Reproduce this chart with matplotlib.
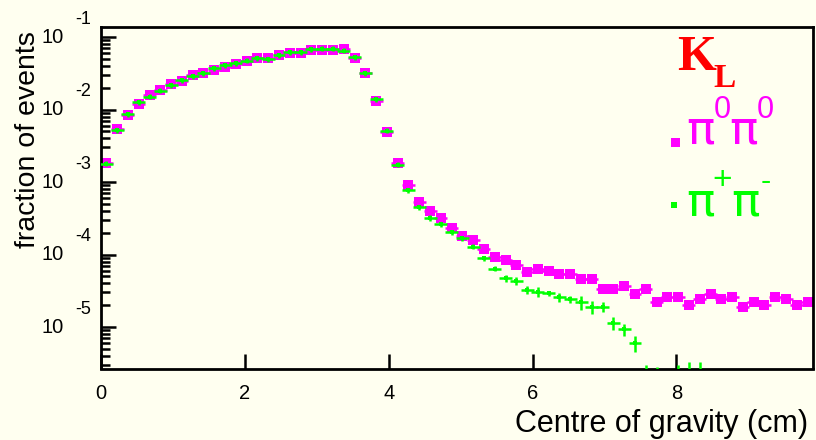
import numpy as np
import matplotlib
matplotlib.use("Agg")
import matplotlib.pyplot as plt
import matplotlib.transforms as mtransforms
from matplotlib.patches import Rectangle
from matplotlib.ticker import FixedLocator, LogLocator, NullFormatter, NullLocator

# ---- data: fraction of events per 0.15 cm bin of the centre of gravity ----
bin_start = 0.0
bin_width = 0.15

pi0pi0 = [
    1.81e-3, 5.33e-3, 8.32e-3, 1.19e-2, 1.57e-2, 1.86e-2, 2.22e-2, 2.45e-2,
    2.96e-2, 3.22e-2, 3.54e-2, 3.89e-2, 4.20e-2, 4.71e-2, 5.19e-2, 5.13e-2,
    5.58e-2, 6.08e-2, 6.11e-2, 6.62e-2, 6.62e-2, 6.62e-2, 6.73e-2, 5.08e-2,
    3.19e-2, 1.30e-2, 4.84e-3, 1.81e-3, 9.06e-4, 5.27e-4, 3.98e-4, 3.24e-4,
    2.32e-4, 1.78e-4, 1.60e-4, 1.21e-4, 9.33e-5, 8.39e-5, 7.08e-5, 5.75e-5,
    6.37e-5, 5.89e-5, 5.37e-5, 5.37e-5, 4.57e-5, 4.57e-5, 3.39e-5, 3.39e-5,
    3.72e-5, 2.88e-5, 3.39e-5, 2.21e-5, 2.63e-5, 2.63e-5, 2.00e-5, 2.40e-5,
    2.85e-5, 2.40e-5, 2.63e-5, 1.86e-5, 2.19e-5, 2.00e-5, 2.63e-5, 2.40e-5,
    2.00e-5, 2.21e-5,
]

pipm = [
    1.78e-3, 5.21e-3, 8.67e-3, 1.26e-2, 1.50e-2, 1.82e-2, 2.18e-2, 2.55e-2,
    2.90e-2, 3.16e-2, 3.70e-2, 4.11e-2, 4.34e-2, 4.71e-2, 5.08e-2, 4.92e-2,
    5.65e-2, 6.15e-2, 6.15e-2, 6.76e-2, 6.90e-2, 6.90e-2, 6.47e-2, 5.24e-2,
    3.16e-2, 1.38e-2, 5.13e-3, 1.74e-3, 7.76e-4, 4.52e-4, 3.20e-4, 2.62e-4,
    2.04e-4, 1.67e-4, 1.29e-4, 8.91e-5, 6.38e-5, 4.68e-5, 4.37e-5, 3.24e-5,
    3.09e-5, 2.91e-5, 2.57e-5, 2.40e-5, 2.19e-5, 1.91e-5, 1.91e-5, 1.15e-5,
    9.33e-6, 6.03e-6, 1.51e-6, 1.41e-6, np.nan, 1.51e-6, 1.66e-6, 1.66e-6,
]

# relative statistical error of the charged sample
pipm_relerr = [0.08] * 37 + [
    0.10, 0.13, 0.12, 0.16, 0.09, 0.13, 0.12, 0.21, 0.21, 0.15, 0.20, 0.19,
    0.26, 1.0, 1.0, 1.0, 1.0, 1.0, 1.0,
]

x_ticks = [0, 2, 4, 6, 8]
y_decades = [-1, -2, -3, -4, -5]

# ---- style ----
BG = "#fffff0"
MAGENTA = "#ff00ff"
GREEN = "#00ff00"
RED = "#ff0000"
SANS = "Liberation Sans"
SERIF = "Liberation Serif"
GREEK = "DejaVu Sans"

W, H = 816, 440
fig = plt.figure(figsize=(W / 100, H / 100), dpi=100, facecolor=BG)
ax = fig.add_axes([101 / W, 1 - 368.5 / H, (813 - 101) / W, (368.5 - 26.5) / H])
ax.set_facecolor(BG)

centres_all = bin_start + bin_width * (np.arange(len(pi0pi0)) + 0.5)
v0 = np.array(pi0pi0)
vc = np.array(pipm, dtype=float)
rel = np.array(pipm_relerr)
xc = centres_all[: len(vc)]
ok = ~np.isnan(vc)

ax.set_yscale("log")
ax.set_xlim(0, 9.9)
ax.set_ylim(10 ** -5.572, 10 ** -0.855)

# neutral decays: filled squares with bin-width bars
ax.errorbar(centres_all, v0, xerr=0.09, fmt="s", ms=7.6, mfc=MAGENTA, mec=MAGENTA,
            mew=0, ecolor=MAGENTA, elinewidth=1.8, capsize=0, zorder=2)

# charged decays: crosses with small markers
lo = vc[ok] * np.minimum(rel[ok], 0.9)
hi = vc[ok] * rel[ok]
ax.errorbar(xc[ok], vc[ok], xerr=0.09, yerr=[lo, hi], fmt="s", ms=3.2,
            mfc=GREEN, mec=GREEN, mew=0, ecolor=GREEN, elinewidth=1.8,
            capsize=0, zorder=3)

# ---- frame and ticks ----
for side in ["left", "right", "top", "bottom"]:
    ax.spines[side].set_linewidth(2.0)
    ax.spines[side].set_color("black")

ax.xaxis.set_major_locator(FixedLocator(x_ticks))
ax.xaxis.set_minor_locator(NullLocator())
ax.yaxis.set_major_locator(LogLocator(base=10, numticks=20))
ax.yaxis.set_minor_locator(LogLocator(base=10, subs=np.arange(2, 10), numticks=20))
ax.yaxis.set_major_formatter(NullFormatter())
ax.yaxis.set_minor_formatter(NullFormatter())
ax.tick_params(which="major", direction="in", length=11, width=1.8,
               top=False, right=False, color="black")
ax.tick_params(which="minor", direction="in", length=6.5, width=1.8,
               top=False, right=False, color="black")
ax.set_xticklabels([str(t) for t in x_ticks], fontsize=14.5, family=SANS)
ax.tick_params(axis="x", pad=11)

# power-of-ten labels on the y axis
trans = mtransforms.blended_transform_factory(fig.transFigure, ax.transData)
trans_up = mtransforms.offset_copy(trans, fig=fig, x=0, y=18, units="dots")
for e in y_decades:
    ax.text(64 / W, 10.0 ** e, "10", transform=trans, ha="right", va="center",
            fontsize=14.5, family=SANS, clip_on=False)
    ax.text(75 / W, 10.0 ** e, str(e), transform=trans_up, ha="left", va="center",
            fontsize=13, family=SANS, clip_on=False)

# axis titles
fig.text(35.5 / W, 1 - 140 / H, "fraction of events", rotation=90,
         rotation_mode="anchor", ha="center", va="baseline", fontsize=20.5,
         family=SANS)
fig.text(808 / W, 1 - 432 / H, "Centre of gravity (cm)", ha="right",
         va="baseline", fontsize=22, family=SANS)

# ---- key ----
fig.text(677 / W, 1 - 70 / H, "K", color=RED, fontsize=36, family=SERIF,
         weight="bold", ha="left", va="baseline")
fig.text(713 / W, 1 - 87 / H, "L", color=RED, fontsize=24, family=SERIF,
         weight="bold", ha="left", va="baseline")

fig.add_artist(Rectangle((671 / W, 1 - 147 / H), 9 / W, 9 / H, transform=fig.transFigure,
                         facecolor=MAGENTA, edgecolor="none"))
for xp in (686, 729):
    fig.text(xp / W, 1 - 144 / H, "\u03c0", color=MAGENTA, fontsize=34,
             family=GREEK, ha="left", va="baseline")
for xp in (714, 757):
    fig.text(xp / W, 1 - 118 / H, "0", color=MAGENTA, fontsize=22,
             family=SANS, ha="left", va="baseline")

fig.add_artist(Rectangle((671 / W, 1 - 208 / H), 6 / W, 6 / H, transform=fig.transFigure,
                         facecolor=GREEN, edgecolor="none"))
for xp in (686, 731):
    fig.text(xp / W, 1 - 215 / H, "\u03c0", color=GREEN, fontsize=34,
             family=GREEK, ha="left", va="baseline")
fig.text(722.5 / W, 1 - 180.5 / H, "+", color=GREEN, fontsize=24,
         family=SANS, ha="center", va="center")
fig.text(766 / W, 1 - 182 / H, "-", color=GREEN, fontsize=22,
         family=SANS, ha="center", va="center")

fig.savefig("out.png", dpi=100, facecolor=BG)
